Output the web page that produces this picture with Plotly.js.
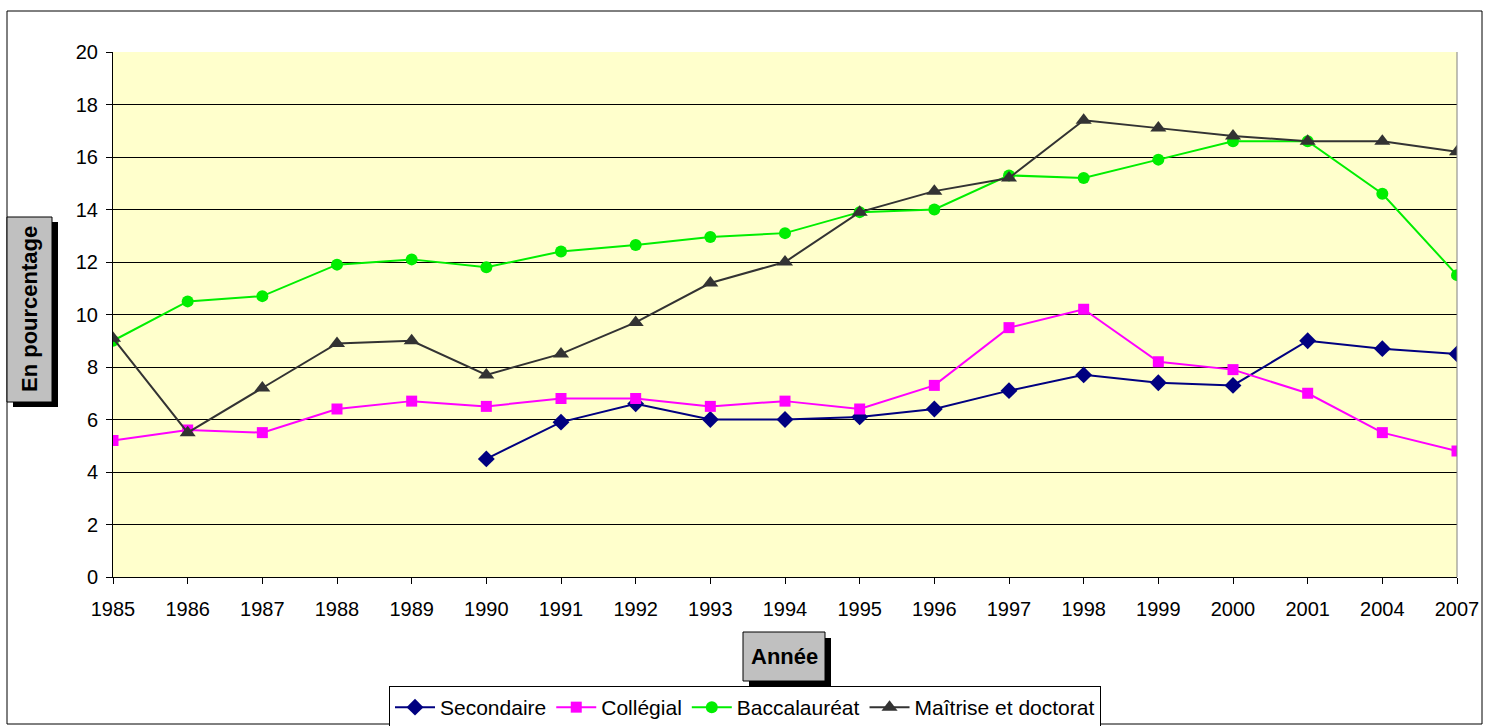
<!DOCTYPE html>
<html>
<head>
<meta charset="utf-8">
<script src="https://cdn.plot.ly/plotly-3.0.1.min.js"></script>
<style>html,body{margin:0;padding:0;background:#fff;}#chart{width:1485px;height:726px;}</style>
</head>
<body>
<div id="chart"></div>
<script>
const years = ["1985","1986","1987","1988","1989","1990","1991","1992","1993","1994","1995","1996","1997","1998","1999","2000","2001","2004","2007"];
const secondaire = [null,null,null,null,null,4.5,5.9,6.6,6.0,6.0,6.1,6.4,7.1,7.7,7.4,7.3,9.0,8.7,8.5];
const collegial = [5.2,5.6,5.5,6.4,6.7,6.5,6.8,6.8,6.5,6.7,6.4,7.3,9.5,10.2,8.2,7.9,7.0,5.5,4.8];
const baccalaureat = [9.0,10.5,10.7,11.9,12.1,11.8,12.4,12.65,12.95,13.1,13.9,14.0,15.3,15.2,15.9,16.6,16.6,14.6,11.5];
const maitrise = [9.1,5.5,7.2,8.9,9.0,7.7,8.5,9.7,11.2,12.0,13.9,14.7,15.2,17.4,17.1,16.8,16.6,16.6,16.2];
const seriesNames = ["Secondaire","Collégial","Baccalauréat","Maîtrise et doctorat"];
const yTicks = [0,2,4,6,8,10,12,14,16,18,20];

const W=1485,H=726,L=113,R=28,T=52,B=149;
const pw=W-L-R, ph=H-T-B;
const px = x => (x-L)/pw;
const py = y => (H-B-y)/ph;
const FONT = "Liberation Sans, Arial, sans-serif";

const traces = [
  {x:years,y:secondaire,name:seriesNames[0],type:"scatter",mode:"lines+markers",
   line:{color:"#000080",width:2},marker:{symbol:"diamond",size:13,color:"#000080"},connectgaps:false},
  {x:years,y:collegial,name:seriesNames[1],type:"scatter",mode:"lines+markers",
   line:{color:"#FF00FF",width:2},marker:{symbol:"square",size:11,color:"#FF00FF"}},
  {x:years,y:baccalaureat,name:seriesNames[2],type:"scatter",mode:"lines+markers",
   line:{color:"#00EE00",width:2},marker:{symbol:"circle",size:12,color:"#00EE00"}},
  {x:years,y:maitrise,name:seriesNames[3],type:"scatter",mode:"lines+markers",
   line:{color:"#333333",width:2},marker:{symbol:"triangle-up",size:14,color:"#333333"}}
];

const layout = {
  width:W,height:H,
  margin:{l:L,r:R,t:T,b:B,pad:0,autoexpand:false},
  paper_bgcolor:"#FFFFFF",
  plot_bgcolor:"#FFFFCC",
  font:{family:FONT,size:20,color:"#000"},
  showlegend:true,
  legend:{orientation:"h",x:px(745),xanchor:"center",y:py(686),yanchor:"top",
    bgcolor:"#FFFFFF",bordercolor:"#000",borderwidth:1,font:{family:FONT,size:21,color:"#000"},
    itemwidth:40,tracegroupgap:0},
  xaxis:{type:"category",categoryorder:"array",categoryarray:years,range:[0,years.length-1],
    showgrid:false,zeroline:false,showline:true,linecolor:"#000",linewidth:1,
    ticks:"outside",ticklen:6,tickcolor:"#000",tickfont:{family:FONT,size:20,color:"#000"},
    ticklabelstandoff:8,fixedrange:true},
  yaxis:{range:[0,20],tickvals:yTicks,ticktext:yTicks.map(String),
    showgrid:true,gridcolor:"#000",gridwidth:1,zeroline:false,showline:true,linecolor:"#000",linewidth:1,
    ticks:"outside",ticklen:6,tickcolor:"#000",tickfont:{family:FONT,size:20,color:"#000"},
    ticklabelstandoff:4,fixedrange:true},
  shapes:[
    {type:"rect",xref:"paper",yref:"paper",x0:px(7),x1:px(1482),y0:py(11),y1:py(724),line:{color:"#000",width:1},fillcolor:"rgba(0,0,0,0)"},
    {type:"line",xref:"paper",yref:"paper",x0:1,x1:1,y0:0,y1:1,line:{color:"#808080",width:1}},
    {type:"rect",xref:"paper",yref:"paper",x0:px(13),x1:px(58),y0:py(222),y1:py(407),line:{width:0},fillcolor:"#000"},
    {type:"rect",xref:"paper",yref:"paper",x0:px(7),x1:px(52),y0:py(217),y1:py(402),line:{color:"#000",width:1},fillcolor:"#C0C0C0"},
    {type:"rect",xref:"paper",yref:"paper",x0:px(749),x1:px(831),y0:py(638),y1:py(687),line:{width:0},fillcolor:"#000"},
    {type:"rect",xref:"paper",yref:"paper",x0:px(743),x1:px(825),y0:py(632),y1:py(681),line:{color:"#000",width:1},fillcolor:"#C0C0C0"}
  ],
  annotations:[
    {text:"<b>En pourcentage</b>",xref:"paper",yref:"paper",x:px(29.5),y:py(309.5),xanchor:"center",yanchor:"middle",
     textangle:-90,showarrow:false,font:{family:FONT,size:22,color:"#000"}},
    {text:"<b>Année</b>",xref:"paper",yref:"paper",x:px(784),y:py(656.5),xanchor:"center",yanchor:"middle",
     showarrow:false,font:{family:FONT,size:22,color:"#000"}}
  ]
};

Plotly.newPlot("chart",traces,layout,{displayModeBar:false,staticPlot:true});
</script>
</body>
</html>
